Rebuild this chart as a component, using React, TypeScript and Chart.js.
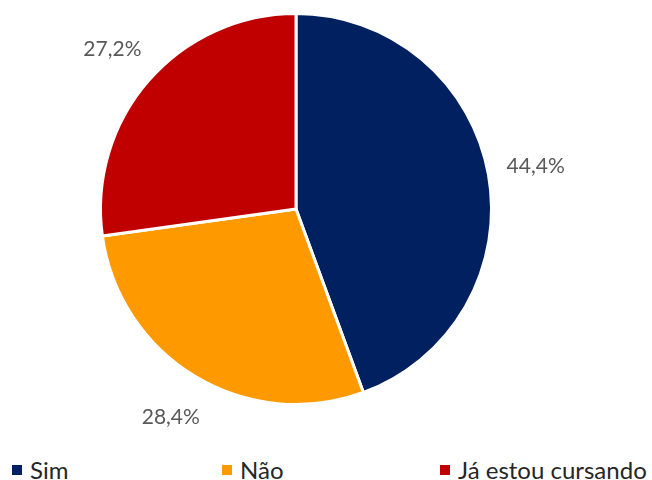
import React, { useEffect, useRef } from "react";
import { Chart, registerables } from "chart.js";

Chart.register(...registerables);

const categories = ["Sim", "Não", "Já estou cursando"];
const values = [44.4, 28.4, 27.2];
const colors = ["#002060", "#FF9900", "#C00000"];
const legendLefts = [12, 222, 440];

const fmt = (v: number) => v.toFixed(1).replace(".", ",") + "%";

const outsideLabels = {
  id: "outsideLabels",
  afterDatasetsDraw(chart: any) {
    const ctx = chart.ctx;
    const meta = chart.getDatasetMeta(0);
    ctx.save();
    ctx.font = '21px Lato, "Open Sans", sans-serif';
    ctx.fillStyle = "#595959";
    ctx.textAlign = "center";
    ctx.textBaseline = "middle";
    meta.data.forEach((arc: any, i: number) => {
      const p = arc.getProps(["x", "y", "startAngle", "endAngle", "outerRadius"], true);
      const mid = (p.startAngle + p.endAngle) / 2;
      const r = p.outerRadius * 1.245;
      ctx.fillText(fmt(values[i]), p.x + Math.cos(mid) * r, p.y + Math.sin(mid) * r);
    });
    ctx.restore();
  },
};

export default function App() {
  const ref = useRef<HTMLCanvasElement>(null);
  useEffect(() => {
    document.body.style.margin = "0";
    const chart = new Chart(ref.current!, {
      type: "pie",
      data: {
        labels: categories,
        datasets: [
          {
            data: values,
            backgroundColor: colors,
            borderColor: "#ffffff",
            borderWidth: 3,
          },
        ],
      },
      options: {
        animation: false,
        responsive: false,
        layout: { padding: { top: 12, bottom: 34, left: 0, right: 60 } },
        plugins: {
          legend: { display: false },
          tooltip: { enabled: false },
        },
      },
      plugins: [outsideLabels],
    });
    return () => chart.destroy();
  }, []);
  return (
    <div style={{ position: "relative", width: 652, height: 480, background: "#fff" }}>
      <canvas ref={ref} width={652} height={440} style={{ display: "block" }} />
      {categories.map((c, i) => (
        <div
          key={c}
          style={{
            position: "absolute",
            left: legendLefts[i],
            top: 456,
            display: "flex",
            alignItems: "center",
            fontFamily: 'Lato, "Open Sans", sans-serif',
            fontSize: 24,
            color: "#262626",
            lineHeight: "28px",
            whiteSpace: "nowrap",
          }}
        >
          <span
            style={{
              display: "inline-block",
              width: 10,
              height: 10,
              background: colors[i],
              marginRight: 8,
            }}
          />
          {c}
        </div>
      ))}
    </div>
  );
}
